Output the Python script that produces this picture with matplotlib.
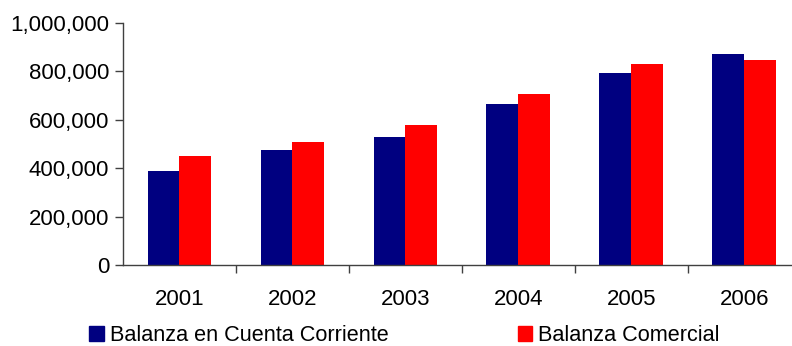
import matplotlib.pyplot as plt
import matplotlib.ticker as mticker
from matplotlib.patches import Patch
import numpy as np

plt.rcParams['font.family'] = ['Liberation Sans', 'DejaVu Sans']

anios = ['2001', '2002', '2003', '2004', '2005', '2006']
cuenta_corriente = [388000, 475000, 528000, 664000, 792000, 871000]
comercial = [450000, 508000, 578000, 706000, 830000, 846000]

azul = '#000080'
rojo = '#FF0000'

fig = plt.figure(figsize=(7.92, 3.46), dpi=100)
ax = fig.add_axes([0.1553, 0.2341, 0.856, 0.7003])

x = np.arange(len(anios))
ancho = 0.283
ax.bar(x - ancho / 2, cuenta_corriente, ancho, color=azul)
ax.bar(x + ancho / 2, comercial, ancho, color=rojo)

ax.set_xlim(-0.5, len(anios) - 0.5)
ax.set_ylim(0, 1000000)
ax.yaxis.set_major_locator(mticker.MultipleLocator(200000))
ax.yaxis.set_major_formatter(mticker.FuncFormatter(lambda v, p: f'{int(v):,}'))

# ticks entre categorias, etiquetas en el centro
ax.set_xticks(np.arange(0.5, len(anios) - 0.5))
ax.set_xticklabels([])
ax.set_xticks(x, minor=True)
ax.set_xticklabels(anios, minor=True)
ax.tick_params(axis='x', which='minor', length=0, pad=17, labelsize=16)
ax.tick_params(axis='x', which='major', length=6, width=1, color='#404040')
ax.tick_params(axis='y', length=6, width=1, color='#404040', labelsize=16, pad=4)

for lado in ['top', 'right']:
    ax.spines[lado].set_visible(False)
for lado in ['left', 'bottom']:
    ax.spines[lado].set_color('#404040')
    ax.spines[lado].set_linewidth(1)

handles = [Patch(color=azul, label='Balanza en Cuenta Corriente'),
           Patch(color=rojo, label='Balanza Comercial')]
fig.legend(handles=handles, loc='center left', bbox_to_anchor=(0.113, 0.03),
           ncol=2, frameon=False, fontsize=15.6, handlelength=0.65, handleheight=0.65,
           handletextpad=0.3, columnspacing=5.95, borderaxespad=0, borderpad=0)

fig.savefig('out.png', dpi=100)
